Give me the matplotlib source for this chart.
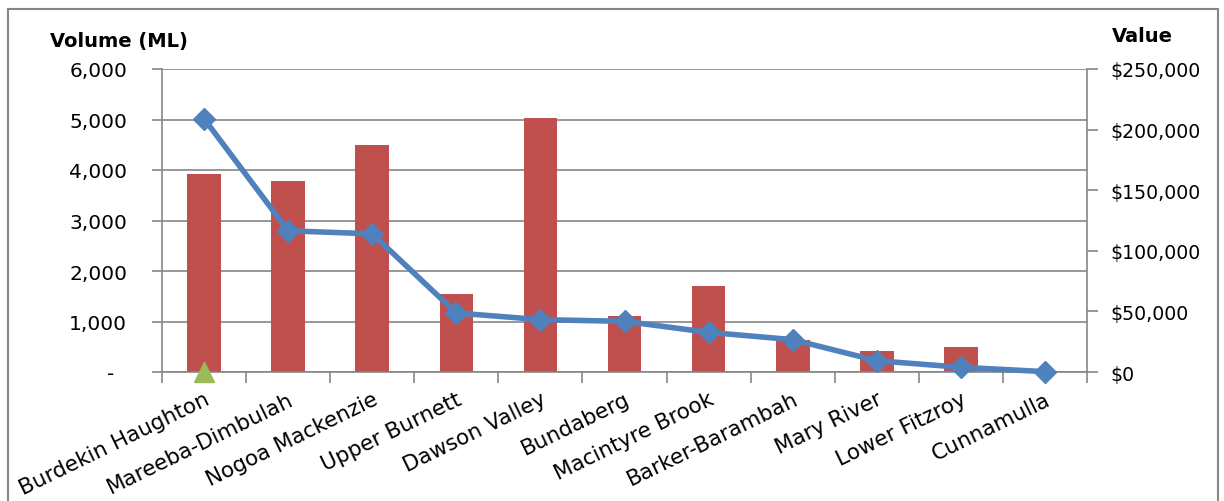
import matplotlib
matplotlib.use('Agg')
import matplotlib.pyplot as plt
import numpy as np
from matplotlib.patches import Rectangle
from matplotlib.ticker import FuncFormatter, MultipleLocator, FixedLocator

categories = ['Burdekin Haughton', 'Mareeba-Dimbulah', 'Nogoa Mackenzie', 'Upper Burnett',
              'Dawson Valley', 'Bundaberg', 'Macintyre Brook', 'Barker-Barambah',
              'Mary River', 'Lower Fitzroy', 'Cunnamulla']
volume_ml = [3920, 3780, 4500, 1550, 5030, 1100, 1700, 630, 410, 500, 20]
value_aud = [209000, 116500, 114000, 48700, 43200, 41800, 32700, 26700, 9300, 3900, 300]
marker_series = [0, np.nan, np.nan, np.nan, np.nan, np.nan, np.nan, np.nan, np.nan, np.nan, np.nan]

GRAY = '#868686'
BAR = '#C0504D'
LINE = '#4F81BD'
GREEN = '#9BBB59'

W, H = 1224, 502
fig = plt.figure(figsize=(W / 100, H / 100), dpi=100)
left, right, top, bottom = 162, 1087, 70, 373
ax = fig.add_axes([left / W, 1 - bottom / H, (right - left) / W, (bottom - top) / H])

x = np.arange(len(categories))
ax.bar(x, volume_ml, width=0.4, color=BAR, zorder=2)
ax.plot(x, marker_series, ls='none', marker='^', ms=15, color=GREEN, zorder=4, clip_on=False)
ax.set_xlim(-0.5, len(categories) - 0.5)
ax.set_ylim(0, 6000)
ax.yaxis.set_major_locator(MultipleLocator(1000))
ax.yaxis.set_major_formatter(FuncFormatter(lambda v, p: '-  ' if v == 0 else f'{int(v):,}'))
ax.yaxis.grid(True, color=GRAY, lw=1.2, zorder=0)
ax.set_axisbelow(True)
ax.tick_params(axis='y', direction='out', length=7, width=1.2, color=GRAY, pad=18, labelsize=14.5)

ax.set_xticks(x)
ax.set_xticklabels(categories, rotation=26, ha='right', va='top', rotation_mode='anchor', fontsize=15.5)
ax.xaxis.set_minor_locator(FixedLocator(np.arange(-0.5, len(categories), 1.0)))
ax.tick_params(axis='x', which='major', length=0, pad=12)
ax.tick_params(axis='x', which='minor', direction='out', length=8, width=1.2, color=GRAY)

for s in ['top', 'right']:
    ax.spines[s].set_visible(False)
for s in ['left', 'bottom']:
    ax.spines[s].set_color(GRAY)
    ax.spines[s].set_linewidth(1.2)

ax2 = ax.twinx()
ax2.plot(x, value_aud, color=LINE, lw=4, marker='D', ms=11, zorder=3, clip_on=False)
ax2.set_ylim(0, 250000)
ax2.yaxis.set_major_locator(MultipleLocator(50000))
ax2.yaxis.set_major_formatter(FuncFormatter(lambda v, p: f'${int(v):,}'))
ax2.tick_params(axis='y', direction='out', length=8, width=1.2, color=GRAY, pad=9, labelsize=13.6)
for s in ['top', 'left', 'bottom']:
    ax2.spines[s].set_visible(False)
ax2.spines['right'].set_color(GRAY)
ax2.spines['right'].set_linewidth(1.2)

fig.text(50 / W, 1 - 42 / H, 'Volume (ML)', fontsize=14, fontweight='bold', ha='left', va='center')
fig.text(1112 / W, 1 - 36 / H, 'Value', fontsize=14, fontweight='bold', ha='left', va='center')

border = Rectangle((8 / W, -0.05), (1218 - 8) / W, 1.05 - 10 / H, transform=fig.transFigure,
                   fill=False, edgecolor=GRAY, lw=1.5)
fig.patches.append(border)

fig.savefig('out.png', dpi=100)
